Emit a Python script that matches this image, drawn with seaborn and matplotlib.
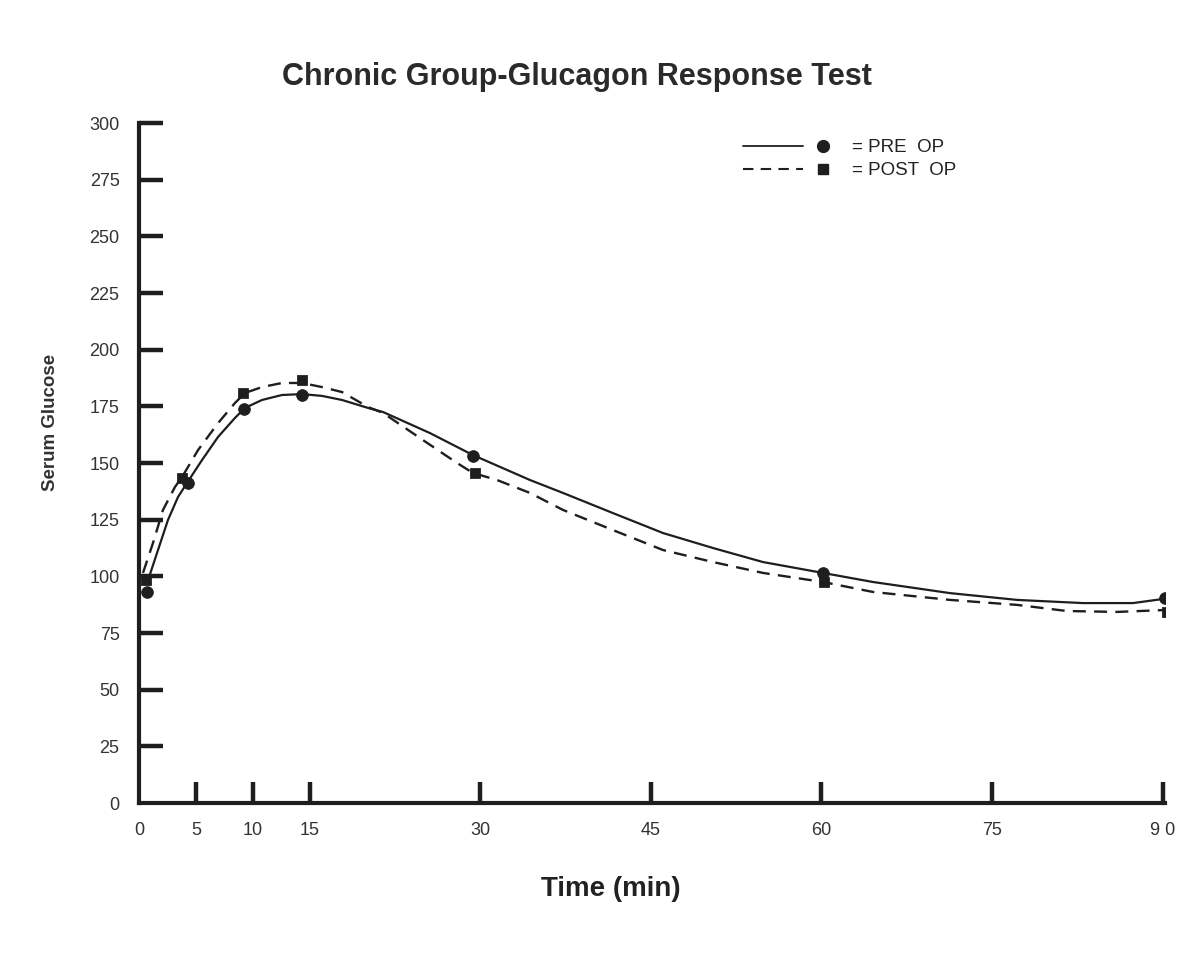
import pandas as pd
import seaborn as sns
import matplotlib.pyplot as plt
from matplotlib.lines import Line2D
from matplotlib.legend_handler import HandlerTuple

pre_time = [0.7, 4.3, 9.2, 14.3, 29.4, 60.1, 90.2]
pre_glucose = [93, 141, 174, 180, 153, 101.5, 90.4]
post_time = [0.6, 3.8, 9.1, 14.3, 29.5, 60.2, 90.4]
post_glucose = [98.4, 143.4, 180.9, 186.6, 145.6, 97.5, 84.3]

# hand-drawn smooth curves
pre_curve_time = [0.8, 1.67, 2.55, 3.43, 4.22, 5.54, 6.95, 8.44, 9.32, 10.81,
                  12.57, 14.33, 16.09, 17.85, 20.13, 21.45, 25.58, 29.36, 34.37,
                  37.27, 41.67, 46.07, 50.46, 54.86, 60.13, 64.53, 71.3, 77.19,
                  82.99, 87.38, 90.02]
pre_curve = [98.4, 111.6, 124.9, 135.0, 141.2, 151.3, 161.5, 169.9, 174.3, 177.8,
             180.0, 180.4, 179.6, 177.8, 174.3, 172.5, 163.2, 153.5, 142.5,
             136.8, 127.9, 119.1, 112.5, 106.3, 101.5, 97.5, 92.6, 89.6,
             88.2, 88.2, 90.0]
post_curve_time = [0.35, 1.23, 2.11, 3.16, 3.78, 5.19, 6.95, 8.44, 9.32, 10.81,
                   12.57, 14.33, 16.09, 17.85, 20.13, 21.45, 24.97, 27.96, 29.36,
                   31.47, 34.37, 37.27, 41.67, 46.07, 50.46, 54.86, 60.13, 64.53,
                   71.3, 77.19, 81.58, 85.98, 90.02]
post_curve = [101.5, 114.7, 129.3, 139.4, 143.8, 155.7, 167.6, 176.5, 180.9, 183.5,
              185.3, 185.3, 183.5, 181.3, 174.7, 172.1, 160.1, 150.0, 145.6,
              142.5, 136.8, 129.3, 120.4, 111.6, 106.3, 101.5, 97.5, 93.1,
              89.6, 87.4, 84.7, 84.3, 85.1]

x_ticks = [0, 5, 10, 15, 30, 45, 60, 75, 90]
x_labels = ["0", "5", "10", "15", "30", "45", "60", "75", "9 0"]
y_ticks = list(range(0, 301, 25))

ink = "#1e1e1e"

sns.set_style("white")
plt.rcParams["font.family"] = ["Liberation Sans", "DejaVu Sans"]

fig = plt.figure(figsize=(11.94, 9.63), dpi=100)
ax = fig.add_axes([139 / 1194, 1 - 803 / 963, 1026 / 1194, 680 / 963])

pre_pts = pd.DataFrame({"time": pre_time, "glucose": pre_glucose})
post_pts = pd.DataFrame({"time": post_time, "glucose": post_glucose})
pre_line = pd.DataFrame({"time": pre_curve_time, "glucose": pre_curve})
post_line = pd.DataFrame({"time": post_curve_time, "glucose": post_curve})

sns.lineplot(data=pre_line, x="time", y="glucose", sort=False, color=ink,
             linewidth=1.6, ax=ax)
sns.lineplot(data=post_line, x="time", y="glucose", sort=False, color=ink,
             linewidth=1.7, linestyle=(0, (5.5, 3.5)), ax=ax)
sns.scatterplot(data=pre_pts, x="time", y="glucose", marker="o", s=70,
                color=ink, edgecolor=ink, zorder=5, ax=ax)
sns.scatterplot(data=post_pts, x="time", y="glucose", marker="s", s=48,
                color=ink, edgecolor=ink, zorder=5, ax=ax)

ax.set_xlim(0, 90.2)
ax.set_ylim(0, 300)
ax.set_xticks(x_ticks)
ax.set_xticklabels(x_labels)
ax.set_yticks(y_ticks)
ax.tick_params(axis="y", left=True, direction="in", length=17, width=3.2,
               color=ink, pad=14, labelsize=13, labelcolor="#333333")
ax.tick_params(axis="x", bottom=True, direction="in", length=15, width=3.2,
               color=ink, pad=14, labelsize=13, labelcolor="#333333")
# no tick mark at the origin, only its label
ax.xaxis.get_major_ticks()[0].tick1line.set_visible(False)
ax.yaxis.get_major_ticks()[0].tick1line.set_visible(False)
for side in ["top", "right"]:
    ax.spines[side].set_visible(False)
for side in ["left", "bottom"]:
    ax.spines[side].set_linewidth(3)
    ax.spines[side].set_color(ink)
    ax.spines[side].set_capstyle("projecting")

ax.set_xlabel("Time (min)", fontsize=20, fontweight="bold", color="#222222")
ax.xaxis.set_label_coords(0.46, -0.108)
ax.set_ylabel("Serum Glucose", fontsize=13.5, fontweight="bold", color="#333333")
ax.yaxis.set_label_coords(-0.078, 0.559)

fig.text(577 / 1194, 1 - 77 / 963, "Chronic Group-Glucagon Response Test",
         ha="center", va="center", fontsize=22, fontweight="bold", color="#2a2a2a")

# legend: line, then marker, then label
h_pre = (Line2D([], [], color=ink, lw=1.3),
         Line2D([], [], ls="none", marker="o", ms=8.5, color=ink))
h_post = (Line2D([], [], color=ink, lw=1.5, ls=(0, (5, 3.5))),
          Line2D([], [], ls="none", marker="s", ms=7, color=ink))
ax.legend([h_pre, h_post], ["= PRE  OP", "= POST  OP"],
          handler_map={tuple: HandlerTuple(ndivide=None, pad=-0.53)},
          handlelength=5.87, handletextpad=-0.05, labelspacing=0.3,
          fontsize=13.5, frameon=False, borderpad=0, labelcolor="#222222",
          loc="upper left", bbox_to_anchor=(734 / 1194, 1 - 130 / 963),
          bbox_transform=fig.transFigure)

fig.savefig("out.png", dpi=100, facecolor="white")
